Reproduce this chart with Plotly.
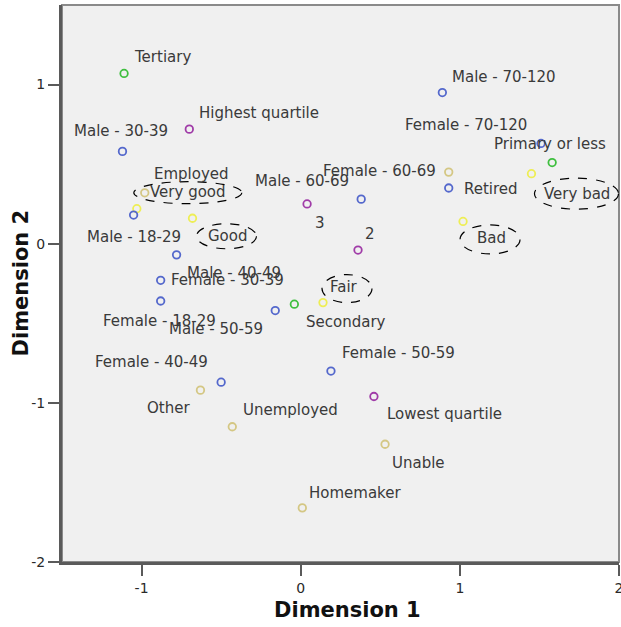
import plotly.graph_objects as go

# ---------------- data ----------------
health_labels = ["Very good", "Good", "Fair", "Bad", "Very bad"]
health_x = [-1.03, -0.68, 0.14, 1.02, 1.45]
health_y = [0.22, 0.16, -0.37, 0.14, 0.44]

education_labels = ["Tertiary", "Secondary", "Primary or less"]
education_x = [-1.11, -0.04, 1.58]
education_y = [1.07, -0.38, 0.51]

income_labels = ["Highest quartile", "3", "2", "Lowest quartile"]
income_x = [-0.70, 0.04, 0.36, 0.46]
income_y = [0.72, 0.25, -0.04, -0.96]

sexage_labels = ["Male - 18-29", "Male - 30-39", "Male - 40-49", "Male - 50-59",
                 "Male - 60-69", "Male - 70-120", "Female - 18-29", "Female - 30-39",
                 "Female - 40-49", "Female - 50-59", "Female - 60-69", "Female - 70-120"]
sexage_x = [-1.05, -1.12, -0.78, -0.16, 0.38, 0.89, -0.88, -0.88, -0.50, 0.19, 0.93, 1.51]
sexage_y = [0.18, 0.58, -0.07, -0.42, 0.28, 0.95, -0.36, -0.23, -0.87, -0.80, 0.35, 0.63]

employment_labels = ["Employed", "Unemployed", "Other", "Homemaker", "Unable", "Retired"]
employment_x = [-0.98, -0.43, -0.63, 0.01, 0.53, 0.93]
employment_y = [0.32, -1.15, -0.92, -1.66, -1.26, 0.45]

x_ticks = [-1, 0, 1, 2]
x_ticklabels = ["-1", "0", "1", "2"]
y_ticks = [-2, -1, 0, 1]
y_ticklabels = ["-2", "-1", "0", "1"]
x_title = "Dimension 1"
y_title = "Dimension 2"

# ---------------- styling ----------------
colors = {
    "health": "#eeee55",
    "education": "#3fbf3f",
    "income": "#a03ca8",
    "sexage": "#5468cc",
    "employment": "#d4c784",
}

# label offsets in screen pixels (dx right, dy down) relative to the point
label_offsets = {
    "Very good": (51, -17), "Good": (35, 18), "Fair": (21, -16), "Bad": (28, 17), "Very bad": (46, 20),
    "Tertiary": (38, -16), "Secondary": (52, 18), "Primary or less": (-2, -19),
    "Highest quartile": (70, -16), "3": (13, 19), "2": (12, -16), "Lowest quartile": (71, 18),
    "Male - 18-29": (0, 22), "Male - 30-39": (-1, -20), "Male - 40-49": (57, 18),
    "Male - 50-59": (-59, 18), "Male - 60-69": (-59, -18), "Male - 70-120": (62, -16),
    "Female - 18-29": (-1, 20), "Female - 30-39": (67, 0), "Female - 40-49": (-70, -20),
    "Female - 50-59": (68, -18), "Female - 60-69": (-69, -17), "Female - 70-120": (-75, -18),
    "Employed": (47, -19), "Unemployed": (58, -17), "Other": (-32, 18), "Homemaker": (53, -15),
    "Unable": (33, 19), "Retired": (42, 17),
}

# dashed ellipses around the health labels: (center dx, center dy, width, height) in px
ellipses = {
    "Very good": (51, -16, 108, 22),
    "Good": (34, 18, 60, 25),
    "Fair": (24, -14, 50, 28),
    "Bad": (27, 18, 60, 29),
    "Very bad": (45, 20, 84, 31),
}

FONT = "DejaVu Sans"
TEXT_COLOR = "#3a3a3a"
TITLE_FONT = dict(family=FONT, size=21, color="#111111", weight="bold")

groups = [
    ("health", health_labels, health_x, health_y),
    ("education", education_labels, education_x, education_y),
    ("income", income_labels, income_x, income_y),
    ("sexage", sexage_labels, sexage_x, sexage_y),
    ("employment", employment_labels, employment_x, employment_y),
]

fig = go.Figure()
annotations = []
shapes = []
for key, labels, xs, ys in groups:
    fig.add_trace(go.Scatter(
        x=xs, y=ys, mode="markers", name=key, text=labels,
        marker=dict(symbol="circle-open", size=7.5, color=colors[key], line=dict(width=1.8)),
        hoverinfo="text", showlegend=False,
    ))
    for lab, x, y in zip(labels, xs, ys):
        dx, dy = label_offsets[lab]
        annotations.append(dict(
            x=x, y=y, xref="x", yref="y", text=lab, showarrow=False,
            xanchor="center", yanchor="middle", xshift=dx, yshift=-dy,
            font=dict(family=FONT, size=15, color=TEXT_COLOR),
        ))
        if lab in ellipses:
            cx, cy, w, h = ellipses[lab]
            shapes.append(dict(
                type="circle", xref="x", yref="y", xsizemode="pixel", ysizemode="pixel",
                xanchor=x, yanchor=y,
                x0=cx - w / 2, x1=cx + w / 2, y0=-cy - h / 2, y1=-cy + h / 2,
                line=dict(color="black", width=1.2, dash="dash"), layer="above",
            ))

# axis titles as annotations (fixed placement)
annotations.append(dict(x=0.5, y=0, xref="paper", yref="paper", text=x_title, showarrow=False,
                        xanchor="center", yanchor="middle", xshift=7, yshift=-48, font=TITLE_FONT))
annotations.append(dict(x=0, y=0.5, xref="paper", yref="paper", text=y_title, showarrow=False,
                        xanchor="center", yanchor="middle", xshift=-42, yshift=0, textangle=-90,
                        font=TITLE_FONT))

# thin border around the plot area
shapes.append(dict(type="rect", xref="paper", yref="paper", x0=0, x1=1, y0=0, y1=1,
                   line=dict(color="#8a8a8a", width=2), layer="below"))

fig.update_layout(
    width=621, height=627,
    margin=dict(l=62, r=2, t=5, b=65, autoexpand=False),
    paper_bgcolor="white", plot_bgcolor="#f0f0f0",
    annotations=annotations, shapes=shapes,
    font=dict(family=FONT, size=13, color=TEXT_COLOR),
)
fig.update_xaxes(
    range=[-1.5, 2], tickvals=x_ticks, ticktext=x_ticklabels, showgrid=False, zeroline=False,
    showline=True, linecolor="#5a5a5a", linewidth=3, automargin=False, ticklabeloverflow="allow",
    ticks="outside", ticklen=11, tickwidth=2, tickcolor="#5a5a5a",
    tickfont=dict(family=FONT, size=14, color="#2a2a2a"),
)
fig.update_yaxes(
    range=[-2, 1.5], tickvals=y_ticks, ticktext=y_ticklabels, showgrid=False, zeroline=False,
    showline=True, linecolor="#5a5a5a", linewidth=3, automargin=False, ticklabeloverflow="allow",
    ticks="outside", ticklen=11, tickwidth=2, tickcolor="#5a5a5a",
    tickfont=dict(family=FONT, size=14, color="#2a2a2a"),
)

fig.write_html(
    "out.html",
    config={"displayModeBar": False},
    post_script="document.body.style.margin='0';document.body.style.overflow='hidden';",
)
